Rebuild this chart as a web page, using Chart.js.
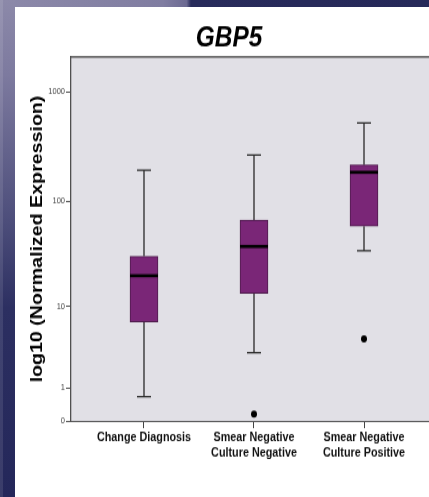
<!DOCTYPE html>
<html>
<head>
<meta charset="utf-8">
<title>GBP5</title>
<script src="https://cdn.jsdelivr.net/npm/chart.js@4/dist/chart.umd.min.js"></script>
<style>
  html, body { margin: 0; padding: 0; width: 429px; height: 497px; overflow: hidden; background: #ffffff; }
  #bandTop { position: absolute; left: 0; top: 0; width: 429px; height: 7px;
    background: linear-gradient(90deg, #8c89a9 0%, #807da1 38%, #6c6a92 43.5%, #282b5b 44.5%, #262959 100%); }
  #bandLeft { position: absolute; left: 0; top: 0; width: 15px; height: 497px;
    background: linear-gradient(180deg, #8c89a9 0%, #7d7a9f 15%, #4c4d7a 45%, #2c2f61 62%, #24275a 100%); }
  #bandEdge { position: absolute; left: 0; top: 0; width: 3px; height: 497px; background: rgba(255,255,255,0.10); }
  #stage { position: absolute; left: 0; top: 0; width: 450px; height: 418px;
    transform: scaleY(1.189); transform-origin: 0 0; }
</style>
</head>
<body>
<div id="bandTop"></div>
<div id="bandLeft"></div>
<div id="bandEdge"></div>
<div id="stage"><canvas id="chart" width="450" height="418"></canvas></div>
<script>
// Groups on the x axis (one entry per text line)
const categories = [
  ['Change Diagnosis'],
  ['Smear Negative', 'Culture Negative'],
  ['Smear Negative', 'Culture Positive']
];

// Box plot summaries, normalized expression
const whiskerLow  = [0.67, 3.2, 34.7];
const q1          = [7.0, 13.6, 58.6];
const medians     = [20.1, 38, 184];
const q3          = [30.7, 67, 215];
const whiskerHigh = [192, 265, 519];

// Outliers: group index and value
const outlierGroup = [1, 2];
const outlierValue = [0.16, 4.6];

// Tick labels of the value axis
const yTickLabels = [0, 1, 10, 100, 1000];

// The value axis is log10(x + 1)
const lg = v => Math.log10(v + 1);

const FONT = "'Liberation Sans', Arial, Helvetica, sans-serif";
const BOX_HALF = 14;
const CAP_HALF = 7;

const plotBackground = {
  id: 'plotBackground',
  beforeDraw(chart) {
    const { ctx, chartArea: a } = chart;
    ctx.save();
    ctx.fillStyle = '#e1e0e6';
    ctx.fillRect(a.left, a.top, a.right - a.left, a.bottom - a.top);
    ctx.strokeStyle = '#6e6e6e';
    ctx.lineWidth = 1.6;
    ctx.beginPath();
    ctx.moveTo(a.left, a.top);
    ctx.lineTo(a.right, a.top);
    ctx.stroke();
    ctx.restore();
  }
};

const boxParts = {
  id: 'boxParts',
  beforeDatasetsDraw(chart) {
    const { ctx, scales: { x, y } } = chart;
    ctx.save();
    ctx.strokeStyle = '#2a2a2a';
    ctx.lineWidth = 1.3;
    categories.forEach((_, i) => {
      const px = x.getPixelForValue(i);
      const yLo = y.getPixelForValue(lg(whiskerLow[i]));
      const yQ1 = y.getPixelForValue(lg(q1[i]));
      const yQ3 = y.getPixelForValue(lg(q3[i]));
      const yHi = y.getPixelForValue(lg(whiskerHigh[i]));
      ctx.beginPath();
      ctx.moveTo(px, yLo); ctx.lineTo(px, yQ1);
      ctx.moveTo(px, yQ3); ctx.lineTo(px, yHi);
      ctx.moveTo(px - CAP_HALF, yLo); ctx.lineTo(px + CAP_HALF, yLo);
      ctx.moveTo(px - CAP_HALF, yHi); ctx.lineTo(px + CAP_HALF, yHi);
      ctx.stroke();
    });
    ctx.restore();
  },
  afterDatasetsDraw(chart) {
    const { ctx, scales: { x, y } } = chart;
    ctx.save();
    ctx.strokeStyle = '#000000';
    ctx.lineWidth = 2.6;
    categories.forEach((_, i) => {
      const px = x.getPixelForValue(i);
      const ym = y.getPixelForValue(lg(medians[i]));
      ctx.beginPath();
      ctx.moveTo(px - BOX_HALF, ym);
      ctx.lineTo(px + BOX_HALF, ym);
      ctx.stroke();
    });
    ctx.restore();
  }
};

new Chart(document.getElementById('chart'), {
  type: 'bar',
  data: {
    datasets: [
      {
        type: 'bar',
        data: categories.map((_, i) => ({ x: i, y: [lg(q1[i]), lg(q3[i])] })),
        backgroundColor: '#7a2677',
        borderColor: '#4e1b4c',
        borderWidth: 1,
        borderSkipped: false,
        barThickness: 28
      },
      {
        type: 'scatter',
        data: outlierGroup.map((g, i) => ({ x: g, y: lg(outlierValue[i]) })),
        pointRadius: 3,
        pointBackgroundColor: '#000000',
        pointBorderColor: '#000000',
        pointBorderWidth: 0
      }
    ]
  },
  options: {
    responsive: false,
    animation: false,
    events: [],
    layout: { padding: { left: 21, top: 5.9, right: 13, bottom: 0 } },
    plugins: {
      legend: { display: false },
      tooltip: { enabled: false },
      title: {
        display: true,
        text: 'GBP5',
        color: '#000000',
        font: { family: FONT, size: 24.4, style: 'italic', weight: 'bold', lineHeight: 1.2 },
        padding: { top: 11.8, bottom: 0.9 }
      }
    },
    scales: {
      x: {
        type: 'linear',
        offset: false,
        min: -0.6636,
        max: 2.6636,
        afterBuildTicks: s => { s.ticks = categories.map((_, i) => ({ value: i })); },
        afterFit: s => { s.height = 63.9; },
        ticks: {
          autoSkip: false,
          maxRotation: 0,
          padding: 2,
          color: '#111111',
          font: { family: FONT, size: 10.8, weight: 'bold', lineHeight: 1.17 },
          callback: (v, i) => categories[i]
        },
        grid: { display: true, offset: false, drawOnChartArea: false, tickLength: 6, color: '#444444', tickWidth: 1 },
        border: { display: true, color: '#555555', width: 1 }
      },
      y: {
        type: 'linear',
        min: 0,
        max: 3.318,
        afterBuildTicks: s => { s.ticks = yTickLabels.map(t => ({ value: lg(t) })); },
        afterFit: s => { s.width = 50; },
        ticks: {
          autoSkip: false,
          padding: 1,
          color: '#444444',
          font: { family: FONT, size: 7.5 },
          callback: (v, i) => String(yTickLabels[i])
        },
        grid: { display: true, drawOnChartArea: false, tickLength: 5, color: '#555555', tickWidth: 1 },
        border: { display: true, color: '#505050', width: 1.3 },
        title: {
          display: true,
          text: 'log10 (Normalized Expression)',
          color: '#000000',
          font: { family: FONT, size: 16.5, weight: 'bold', lineHeight: 1.2 },
          padding: { top: 6.7, bottom: 0 }
        }
      }
    }
  },
  plugins: [plotBackground, boxParts]
});
</script>
</body>
</html>
